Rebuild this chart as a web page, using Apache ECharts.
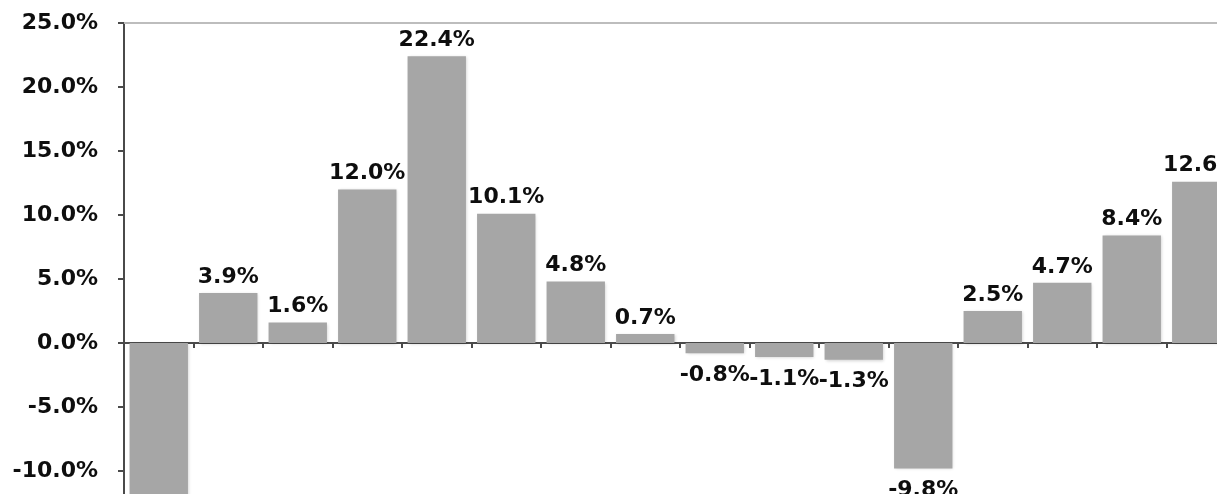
<!DOCTYPE html>
<html>
<head>
<meta charset="utf-8">
<script src="https://cdn.jsdelivr.net/npm/echarts@6/dist/echarts.min.js"></script>
<style>
  html, body { margin: 0; padding: 0; background: #fff; overflow: hidden; width: 1217px; height: 494px; }
  #chart { width: 1260px; height: 560px; }
</style>
</head>
<body>
<div id="chart"></div>
<script>
// Period-over-period percentage change, one bar per period
const categories = ['P1','P2','P3','P4','P5','P6','P7','P8','P9','P10','P11','P12','P13','P14','P15','P16'];
const changes = [-13.5, 3.9, 1.6, 12.0, 22.4, 10.1, 4.8, 0.7, -0.8, -1.1, -1.3, -9.8, 2.5, 4.7, 8.4, 12.6];
const yTicks = { min: -15, max: 25, step: 5 };

const labelFont = { fontFamily: 'DejaVu Sans', fontWeight: 'bold', fontSize: 22, color: '#0e0e0e' };

const chart = echarts.init(document.getElementById('chart'));
chart.setOption({
  animation: false,
  backgroundColor: '#fff',
  grid: { left: 124, top: 23, width: 1112, height: 512 },
  xAxis: [
    {
      type: 'category',
      data: categories,
      axisLine: { onZero: true, lineStyle: { color: '#4a4a4a', width: 2 } },
      axisTick: { show: true, length: 5, lineStyle: { color: '#4a4a4a', width: 2 } },
      axisLabel: { show: false },
      splitLine: { show: false }
    },
    {
      type: 'category',
      position: 'top',
      data: categories,
      axisLine: { show: true, onZero: false, lineStyle: { color: '#bdbdbd', width: 2 } },
      axisTick: { show: false },
      axisLabel: { show: false }
    }
  ],
  yAxis: {
    type: 'value',
    min: yTicks.min,
    max: yTicks.max,
    interval: yTicks.step,
    axisLine: { show: true, lineStyle: { color: '#4a4a4a', width: 2 } },
    axisTick: { show: true, length: 6, lineStyle: { color: '#4a4a4a', width: 2 } },
    splitLine: { show: false },
    axisLabel: Object.assign({
      margin: 26,
      formatter: v => v.toFixed(1) + '%'
    }, labelFont)
  },
  series: [{
    type: 'bar',
    barCategoryGap: '16%',
    itemStyle: {
      color: '#a6a6a6',
      shadowColor: 'rgba(0,0,0,0.18)',
      shadowBlur: 3,
      shadowOffsetX: 1,
      shadowOffsetY: 1
    },
    data: changes.map(v => ({
      value: v,
      label: { position: v < 0 ? 'bottom' : 'top', distance: v < 0 ? 11 : 5 }
    })),
    label: Object.assign({
      show: true,
      formatter: p => p.value.toFixed(1) + '%'
    }, labelFont)
  }]
});
</script>
</body>
</html>
